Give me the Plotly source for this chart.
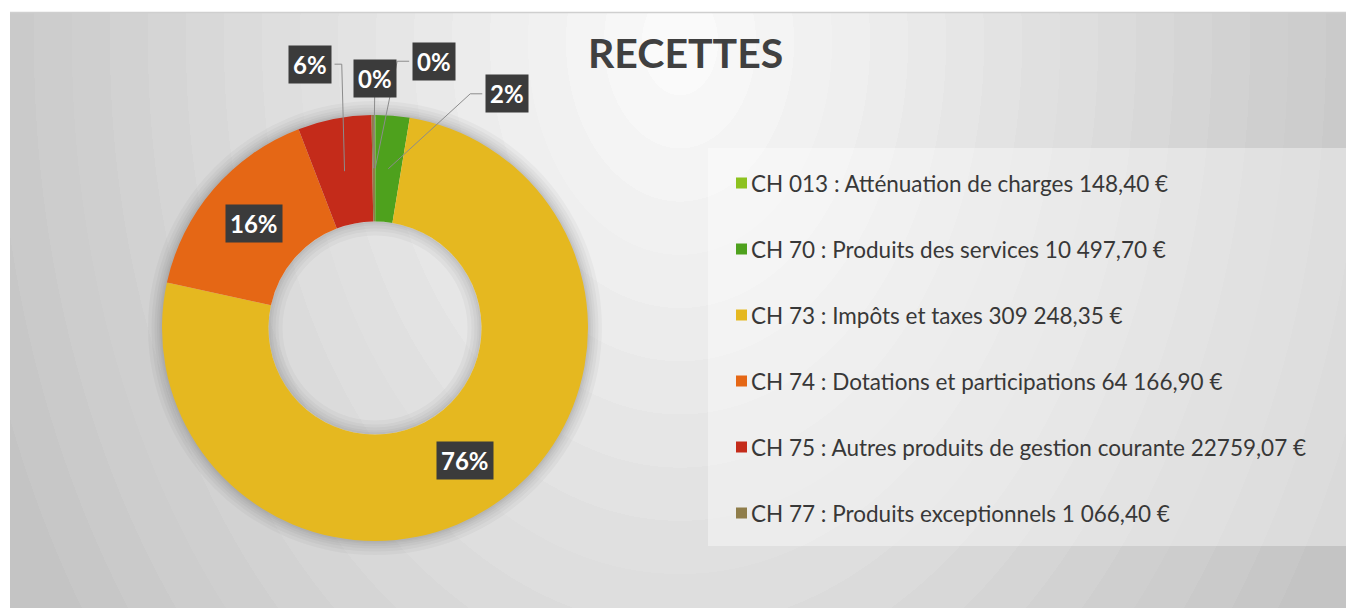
import math
import base64
import plotly.graph_objects as go

# ---------------- data ----------------
categories = [
    "CH 013 : Atténuation de charges 148,40 €",
    "CH 70 : Produits des services 10 497,70 €",
    "CH 73 : Impôts et taxes 309 248,35 €",
    "CH 74 : Dotations et participations 64 166,90 €",
    "CH 75 : Autres produits de gestion courante 22759,07 €",
    "CH 77 : Produits exceptionnels 1 066,40 €",
]
values = [148.40, 10497.70, 309248.35, 64166.90, 22759.07, 1066.40]
pct_labels = ["0%", "2%", "76%", "16%", "6%", "0%"]
colors = ["#8DC21F", "#4EA11D", "#E5B820", "#E56715", "#C42B1A", "#8F7D4A"]
title_text = "RECETTES"

# ---------------- geometry / style ----------------
FW, FH = 1346, 608
ML, MT = 10, 12            # plot area offset inside the figure (white page margin)
PW, PH = FW - ML, FH - MT
CX, CY, R = 375, 328, 213  # donut centre / radius in pixels
HOLE = 0.5


def px2paper(x, y):
    return (x - ML) / PW, 1 - (y - MT) / PH


def domain_for(radius):
    cxp, cyp = px2paper(CX, CY)
    hw, hh = radius / PW, radius / PH
    return dict(x=[cxp - hw, cxp + hw], y=[cyp - hh, cyp + hh])


# background: radial banded gradient as svg image
N = 20
stops = []
light, dark = 250, 196
for k in range(N):
    c = round(light - (light - dark) * k / (N - 1))
    col = f"rgb({c},{c},{c})"
    stops.append(f'<stop offset="{k/N:.4f}" stop-color="{col}"/>')
    stops.append(f'<stop offset="{(k+1)/N:.4f}" stop-color="{col}"/>')
gcx, gcy, gr = 670, 30, 760
svg = (
    f'<svg xmlns="http://www.w3.org/2000/svg" width="{PW}" height="{PH}" viewBox="0 0 {PW} {PH}">'
    f'<defs><radialGradient id="g" gradientUnits="userSpaceOnUse" cx="{gcx}" cy="{gcy}" r="{gr}" '
    f'gradientTransform="translate({gcx} {gcy}) scale(1 1.4) translate({-gcx} {-gcy})">'
    + "".join(stops)
    + f'</radialGradient></defs><rect width="{PW}" height="{PH}" fill="url(#g)"/></svg>'
)
bg_src = "data:image/svg+xml;base64," + base64.b64encode(svg.encode()).decode()

fig = go.Figure()

# soft outer shadow of the donut
for rr in [214.5, 216, 218, 220.5, 223.5, 227]:
    fig.add_trace(go.Pie(
        values=[1], labels=["s"], domain=domain_for(rr), hole=211.5 / rr,
        marker=dict(colors=["rgba(0,0,0,0.03)"], line=dict(width=0)),
        textinfo="none", hoverinfo="skip", showlegend=False, sort=False,
    ))
# inner shadow of the hole
rin = R * HOLE
for k in [2, 4, 7, 10, 14]:
    fig.add_trace(go.Pie(
        values=[1], labels=["h"], domain=domain_for(rin), hole=(rin - k) / rin,
        marker=dict(colors=["rgba(0,0,0,0.03)"], line=dict(width=0)),
        textinfo="none", hoverinfo="skip", showlegend=False, sort=False,
    ))

# main donut
fig.add_trace(go.Pie(
    labels=categories, values=values, domain=domain_for(R), hole=HOLE,
    sort=False, direction="clockwise", rotation=0,
    marker=dict(colors=colors, line=dict(width=0)),
    textinfo="none", showlegend=False,
    hovertemplate="%{label}<br>%{percent}<extra></extra>",
))

# ---------------- percentage labels ----------------
label_offsets = {0: (59, -107), 1: (119, -75), 4: (-35, -107), 5: (1, -90)}
BOX_HW = 25      # approx half width of a label box (px)
ELBOW = 12
total = sum(values)
annotations = []
shapes = []
cum = 0.0
rmid = (R + R * HOLE) / 2
lab_font = dict(family="Lato, 'Open Sans', sans-serif", size=24, color="white")
for i, v in enumerate(values):
    theta = (cum + v / 2) / total * 2 * math.pi
    cum += v
    px = CX + rmid * math.sin(theta)
    py = CY - rmid * math.cos(theta)
    txt = f"<b>{pct_labels[i]}</b>"
    if i in label_offsets:
        ax, ay = label_offsets[i]
        bx, by = px + ax, py + ay
        if abs(ax) < 10:
            pts = [(px, py), (bx, by + 17)]
        elif ax > 0:
            pts = [(px, py), (bx - BOX_HW - ELBOW, by), (bx - BOX_HW, by)]
        else:
            pts = [(px, py), (bx + BOX_HW + ELBOW * 0.6, by), (bx + BOX_HW, by)]
        pp = [px2paper(*p) for p in pts]
        path = "M " + " L ".join(f"{a:.5f},{b:.5f}" for a, b in pp)
        shapes.append(dict(type="path", xref="paper", yref="paper", path=path,
                           line=dict(color="#8c8c8c", width=1)))
        xp, yp = px2paper(bx, by)
    else:
        xp, yp = px2paper(px, py)
    annotations.append(dict(x=xp, y=yp, xref="paper", yref="paper", text=txt,
                            showarrow=False, xanchor="center", yanchor="middle",
                            bgcolor="#3b3b3b", borderpad=4, font=lab_font))

# ---------------- legend (manual) ----------------
LX0, LY0, LX1, LY1 = 708, 148, 1346, 546
x0p, y0p = px2paper(LX0, LY0)
x1p, y1p = px2paper(LX1, LY1)
shapes.insert(0, dict(type="rect", xref="paper", yref="paper", x0=x0p, x1=x1p, y0=y1p, y1=y0p,
                      fillcolor="rgba(255,255,255,0.38)", line=dict(width=0), layer="below"))
row0, step = 183, 66
for i, (lab, col) in enumerate(zip(categories, colors)):
    yc = row0 + i * step
    sx0, sy0 = px2paper(736, yc - 5.5)
    sx1, sy1 = px2paper(747, yc + 5.5)
    shapes.append(dict(type="rect", xref="paper", yref="paper", x0=sx0, x1=sx1, y0=sy1, y1=sy0,
                       fillcolor=col, line=dict(width=0)))
    tx, ty = px2paper(749, yc)
    annotations.append(dict(x=tx, y=ty, xref="paper", yref="paper", text=lab, showarrow=False,
                            xanchor="left", yanchor="middle",
                            font=dict(family="Lato, 'Open Sans', sans-serif", size=22.5, color="#383838")))

# top border line of the chart area
bx0, by0 = px2paper(10, 12.5)
bx1, _ = px2paper(1346, 12.5)
shapes.append(dict(type="line", xref="paper", yref="paper", x0=bx0, x1=bx1, y0=by0, y1=by0,
                   line=dict(color="#cfcfcf", width=1.5)))

tx, ty = px2paper(685, 52)
annotations.append(dict(x=tx, y=ty, xref="paper", yref="paper", text=f"<b>{title_text}</b>",
                        showarrow=False, xanchor="center", yanchor="middle",
                        font=dict(family="Lato, 'Open Sans', sans-serif", size=41, color="#404040")))

fig.update_layout(
    width=FW, height=FH,
    margin=dict(l=ML, r=0, t=MT, b=0, pad=0, autoexpand=False),
    paper_bgcolor="white", plot_bgcolor="rgba(0,0,0,0)",
    images=[dict(source=bg_src, xref="paper", yref="paper", x=0, y=1, sizex=1, sizey=1,
                 xanchor="left", yanchor="top", sizing="stretch", layer="below")],
    shapes=shapes, annotations=annotations, showlegend=False,
)

fig.write_html(
    "out.html",
    config={"displayModeBar": False},
    post_script="document.body.style.margin='0';document.body.style.overflow='hidden';",
)
